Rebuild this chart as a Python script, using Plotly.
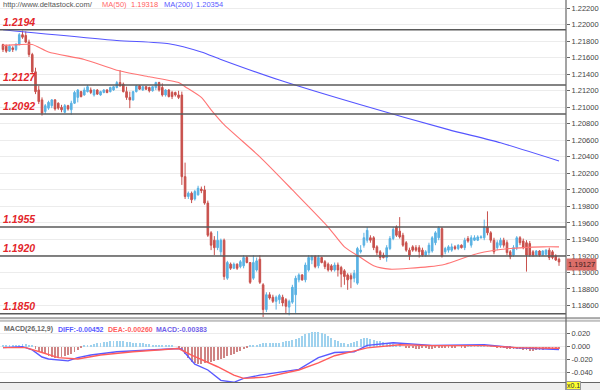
import plotly.graph_objects as go

# ---------------- data ----------------
open_ = [
    1.2176, 1.2174, 1.2168, 1.2172, 1.2170, 1.2176, 1.2188, 1.2187, 1.2179, 1.2164,
    1.2143, 1.2121, 1.2109, 1.2095, 1.2099, 1.2102, 1.2109, 1.2105, 1.2100, 1.2094,
    1.2102, 1.2097, 1.2105, 1.2112, 1.2119, 1.2115, 1.2119, 1.2121, 1.2115, 1.2121,
    1.2115, 1.2118, 1.2121, 1.2119, 1.2121, 1.2124, 1.2130, 1.2128, 1.2119, 1.2112,
    1.2109, 1.2119, 1.2126, 1.2121, 1.2125, 1.2124, 1.2120, 1.2124, 1.2130, 1.2124,
    1.2115, 1.2121, 1.2118, 1.2118, 1.2115, 1.2115, 1.2016, 1.1992, 1.1996, 1.1989,
    1.1994, 1.2001, 1.2000, 1.1984, 1.1948, 1.1939, 1.1930, 1.1925, 1.1939, 1.1893,
    1.1910, 1.1905, 1.1910, 1.1907, 1.1908, 1.1918, 1.1912, 1.1893, 1.1903, 1.1916,
    1.1885, 1.1855, 1.1873, 1.1870, 1.1865, 1.1867, 1.1870, 1.1867, 1.1858, 1.1864,
    1.1873, 1.1891, 1.1897, 1.1891, 1.1903, 1.1915, 1.1919, 1.1908, 1.1918, 1.1913,
    1.1910, 1.1908, 1.1903, 1.1909, 1.1906, 1.1902, 1.1897, 1.1896, 1.1893, 1.1887,
    1.1925, 1.1933, 1.1939, 1.1942, 1.1942, 1.1931, 1.1925, 1.1921, 1.1918, 1.1929,
    1.1941, 1.1955, 1.1950, 1.1945, 1.1936, 1.1927, 1.1931, 1.1930, 1.1930, 1.1927,
    1.1921, 1.1924, 1.1926, 1.1936, 1.1942, 1.1953, 1.1925, 1.1927, 1.1927, 1.1931,
    1.1929, 1.1933, 1.1930, 1.1941, 1.1933, 1.1939, 1.1939, 1.1942, 1.1942, 1.1955,
    1.1948, 1.1939, 1.1930, 1.1933, 1.1939, 1.1936, 1.1925, 1.1921, 1.1930, 1.1942,
    1.1938, 1.1936, 1.1935, 1.1925, 1.1921, 1.1926, 1.1921, 1.1922, 1.1927, 1.1925,
    1.1920, 1.1916,
]
high = [
    1.2177, 1.2176, 1.2176, 1.2174, 1.2178, 1.2190, 1.2193, 1.2192, 1.2182, 1.2166,
    1.2148, 1.2126, 1.2112, 1.2104, 1.2108, 1.2110, 1.2110, 1.2106, 1.2103, 1.2104,
    1.2103, 1.2108, 1.2120, 1.2122, 1.2120, 1.2124, 1.2127, 1.2124, 1.2122, 1.2122,
    1.2120, 1.2122, 1.2122, 1.2125, 1.2126, 1.2132, 1.2145, 1.2130, 1.2125, 1.2119,
    1.2120, 1.2127, 1.2127, 1.2126, 1.2126, 1.2125, 1.2126, 1.2131, 1.2131, 1.2129,
    1.2122, 1.2122, 1.2120, 1.2119, 1.2120, 1.2119, 1.2033, 1.1998, 1.1998, 1.2000,
    1.2005, 1.2004, 1.2005, 1.1987, 1.1950, 1.1944, 1.1950, 1.1941, 1.1941, 1.1914,
    1.1912, 1.1912, 1.1911, 1.1915, 1.1921, 1.1920, 1.1912, 1.1921, 1.1918, 1.1921,
    1.1887, 1.1876, 1.1876, 1.1873, 1.1872, 1.1874, 1.1873, 1.1869, 1.1867, 1.1885,
    1.1896, 1.1899, 1.1898, 1.1912, 1.1921, 1.1921, 1.1921, 1.1921, 1.1919, 1.1915,
    1.1912, 1.1910, 1.1912, 1.1912, 1.1908, 1.1904, 1.1899, 1.1899, 1.1903, 1.1931,
    1.1933, 1.1948, 1.1955, 1.1945, 1.1944, 1.1933, 1.1927, 1.1924, 1.1933, 1.1944,
    1.1955, 1.1957, 1.1967, 1.1948, 1.1938, 1.1930, 1.1933, 1.1933, 1.1933, 1.1930,
    1.1927, 1.1936, 1.1944, 1.1950, 1.1956, 1.1955, 1.1931, 1.1933, 1.1935, 1.1933,
    1.1934, 1.1934, 1.1942, 1.1944, 1.1945, 1.1945, 1.1945, 1.1945, 1.1964, 1.1974,
    1.1950, 1.1942, 1.1939, 1.1942, 1.1942, 1.1939, 1.1927, 1.1933, 1.1944, 1.1944,
    1.1941, 1.1939, 1.1938, 1.1927, 1.1927, 1.1927, 1.1927, 1.1928, 1.1930, 1.1927,
    1.1922, 1.1918,
]
low = [
    1.2167, 1.2166, 1.2167, 1.2167, 1.2168, 1.2175, 1.2183, 1.2178, 1.2161, 1.2141,
    1.2116, 1.2104, 1.2090, 1.2092, 1.2097, 1.2099, 1.2096, 1.2097, 1.2094, 1.2093,
    1.2096, 1.2091, 1.2104, 1.2106, 1.2112, 1.2114, 1.2118, 1.2116, 1.2113, 1.2115,
    1.2114, 1.2117, 1.2117, 1.2118, 1.2120, 1.2123, 1.2125, 1.2118, 1.2109, 1.2099,
    1.2108, 1.2118, 1.2121, 1.2120, 1.2121, 1.2118, 1.2119, 1.2121, 1.2119, 1.2113,
    1.2113, 1.2112, 1.2110, 1.2113, 1.2110, 1.2006, 1.1989, 1.1989, 1.1984, 1.1987,
    1.1993, 1.1996, 1.1982, 1.1943, 1.1927, 1.1921, 1.1927, 1.1920, 1.1891, 1.1891,
    1.1903, 1.1904, 1.1903, 1.1905, 1.1905, 1.1911, 1.1886, 1.1891, 1.1901, 1.1886,
    1.1846, 1.1852, 1.1867, 1.1863, 1.1855, 1.1862, 1.1859, 1.1850, 1.1848, 1.1862,
    1.1851, 1.1888, 1.1890, 1.1888, 1.1901, 1.1910, 1.1905, 1.1905, 1.1911, 1.1904,
    1.1901, 1.1901, 1.1901, 1.1895, 1.1882, 1.1885, 1.1879, 1.1881, 1.1888, 1.1885,
    1.1923, 1.1930, 1.1936, 1.1936, 1.1927, 1.1921, 1.1915, 1.1917, 1.1913, 1.1927,
    1.1939, 1.1943, 1.1941, 1.1931, 1.1925, 1.1915, 1.1925, 1.1925, 1.1918, 1.1919,
    1.1919, 1.1921, 1.1924, 1.1933, 1.1939, 1.1918, 1.1922, 1.1924, 1.1925, 1.1927,
    1.1927, 1.1929, 1.1927, 1.1936, 1.1930, 1.1938, 1.1938, 1.1941, 1.1939, 1.1945,
    1.1936, 1.1922, 1.1927, 1.1930, 1.1930, 1.1921, 1.1916, 1.1919, 1.1927, 1.1933,
    1.1928, 1.1901, 1.1919, 1.1919, 1.1920, 1.1919, 1.1920, 1.1921, 1.1915, 1.1916,
    1.1914, 1.1908,
]
close = [
    1.2170, 1.2168, 1.2174, 1.2170, 1.2176, 1.2188, 1.2185, 1.2179, 1.2164, 1.2143,
    1.2119, 1.2107, 1.2093, 1.2102, 1.2106, 1.2109, 1.2098, 1.2099, 1.2097, 1.2102,
    1.2098, 1.2105, 1.2118, 1.2121, 1.2113, 1.2121, 1.2125, 1.2118, 1.2121, 1.2116,
    1.2119, 1.2121, 1.2118, 1.2124, 1.2125, 1.2130, 1.2126, 1.2119, 1.2112, 1.2109,
    1.2119, 1.2126, 1.2122, 1.2125, 1.2122, 1.2120, 1.2125, 1.2130, 1.2121, 1.2115,
    1.2121, 1.2113, 1.2113, 1.2115, 1.2112, 1.2016, 1.1992, 1.1996, 1.1988, 1.1998,
    1.2002, 1.1999, 1.1984, 1.1945, 1.1933, 1.1930, 1.1939, 1.1939, 1.1895, 1.1912,
    1.1905, 1.1910, 1.1905, 1.1913, 1.1918, 1.1912, 1.1888, 1.1912, 1.1914, 1.1888,
    1.1855, 1.1873, 1.1869, 1.1865, 1.1870, 1.1872, 1.1863, 1.1859, 1.1865, 1.1882,
    1.1893, 1.1897, 1.1891, 1.1909, 1.1918, 1.1919, 1.1907, 1.1918, 1.1912, 1.1907,
    1.1903, 1.1903, 1.1909, 1.1903, 1.1898, 1.1895, 1.1891, 1.1892, 1.1899, 1.1929,
    1.1927, 1.1942, 1.1951, 1.1939, 1.1930, 1.1924, 1.1918, 1.1918, 1.1930, 1.1941,
    1.1952, 1.1945, 1.1943, 1.1933, 1.1927, 1.1921, 1.1927, 1.1927, 1.1925, 1.1921,
    1.1925, 1.1933, 1.1942, 1.1948, 1.1954, 1.1920, 1.1929, 1.1931, 1.1931, 1.1929,
    1.1933, 1.1930, 1.1939, 1.1938, 1.1942, 1.1942, 1.1943, 1.1943, 1.1955, 1.1948,
    1.1939, 1.1925, 1.1936, 1.1939, 1.1933, 1.1924, 1.1919, 1.1930, 1.1942, 1.1936,
    1.1930, 1.1921, 1.1921, 1.1921, 1.1926, 1.1921, 1.1926, 1.1927, 1.1918, 1.1918,
    1.1915, 1.19127,
]

# moving averages read at sample bars
ma50_idx = [0, 5, 9, 14, 25, 35, 45, 54, 56, 61, 64, 68, 79, 89, 100, 105, 110, 114,
            119, 131, 136, 146, 156, 166, 171]
ma50 = [1.2175, 1.2176, 1.2176, 1.2167, 1.2158, 1.2145, 1.2137, 1.2130, 1.2125, 1.2112,
        1.2097, 1.2079, 1.2040, 1.2000, 1.1955, 1.1931, 1.1918, 1.1908, 1.1904, 1.1907,
        1.1910, 1.1923, 1.1929, 1.1931, 1.1931]
ma200_idx = [0, 35, 51, 61, 67, 85, 110, 137, 153, 171]
ma200 = [1.2194, 1.2181, 1.2177, 1.2167, 1.2158, 1.2133, 1.2103, 1.2073, 1.2057, 1.2035]

# horizontal levels
levels = [1.2194, 1.2127, 1.2092, 1.1955, 1.1920, 1.1850]
level_text = ["1.2194", "1.2127", "1.2092", "1.1955", "1.1920", "1.1850"]

# MACD histogram (one per bar)
macd_hist = [
    0.001, 0.001, 0.002, 0.002, 0.002, 0.003, 0.004, 0.004, 0.003, 0.001,
    -0.003, -0.006, -0.009, -0.012, -0.014, -0.016, -0.017, -0.017, -0.016, -0.015,
    -0.013, -0.011, -0.008, -0.005, -0.002,
    0.001, 0.002, 0.003, 0.004, 0.005, 0.006, 0.007, 0.007, 0.008, 0.008,
    0.008, 0.008, 0.008, 0.007, 0.007, 0.006, 0.006, 0.005, 0.005, 0.004,
    0.004, 0.003, 0.003, 0.002, 0.002, 0.001, 0.001, 0.001, 0.000, -0.001,
    -0.004, -0.011, -0.018, -0.023, -0.026, -0.027, -0.027, -0.026, -0.025, -0.024,
    -0.022, -0.021, -0.019, -0.017, -0.015, -0.013, -0.011, -0.009, -0.007, -0.004,
    -0.002,
    0.001, 0.002, 0.003, 0.004, 0.005, 0.005, 0.005, 0.005, 0.006, 0.006,
    0.007, 0.008, 0.009, 0.010, 0.011,
    0.013, 0.016, 0.019, 0.021, 0.022, 0.022, 0.022, 0.021, 0.019, 0.016, 0.013,
    0.010, 0.008, 0.006, 0.005, 0.004, 0.005, 0.007, 0.009, 0.011, 0.013,
    0.013, 0.012, 0.010, 0.009, 0.008, 0.007, 0.006, 0.005, 0.004, 0.003, 0.002,
    0.000, -0.001, -0.002, -0.002, -0.003, -0.003, -0.002, -0.002, -0.003, -0.003,
    -0.002, -0.002, -0.001, -0.002, -0.002, -0.001, -0.001, 0.000, -0.001, -0.001,
    0.001, 0.001, 0.002, 0.002, 0.003, 0.003, 0.002, 0.001, 0.000, -0.001,
    -0.002, -0.002, -0.003, -0.003, -0.004, -0.004, -0.004, -0.005, -0.005, -0.006,
    -0.006, -0.005, -0.005, -0.005, -0.004, -0.004, -0.004, -0.004, -0.004,
]
diff_idx = [0, 6, 9, 12, 14, 20, 23, 27, 35, 45, 54, 55, 56, 57, 59, 63, 67, 71, 74, 79,
            86, 91, 97, 102, 108, 112, 120, 124, 132, 148, 158, 171]
diff = [-0.0016, 0.000, -0.005, -0.016, -0.019, -0.022, -0.017, -0.013, -0.008, -0.005,
        -0.003, -0.004, -0.010, -0.016, -0.027, -0.036, -0.052, -0.055, -0.049, -0.044,
        -0.039, -0.035, -0.017, -0.009, -0.008, 0.002, 0.006, 0.005, 0.002, 0.003,
        -0.002, -0.0045]
dea_idx = [0, 7, 12, 17, 23, 30, 40, 54, 58, 66, 71, 74, 81, 91, 97, 102, 112, 122, 132,
           148, 158, 171]
dea = [-0.0016, -0.0016, -0.009, -0.017, -0.019, -0.013, -0.008, -0.003, -0.013, -0.031,
       -0.044, -0.049, -0.047, -0.036, -0.025, -0.014, -0.002, 0.003, 0.0016, 0.0016,
       -0.0016, -0.0026]

price_ticks = [1.186, 1.188, 1.190, 1.192, 1.194, 1.196, 1.198, 1.200, 1.202, 1.204,
               1.206, 1.208, 1.210, 1.212, 1.214, 1.216, 1.218, 1.220, 1.222]
price_tick_text = ["1.18600", "1.18800", "1.19000", "1.19200", "1.19400", "1.19600",
                   "1.19800", "1.20000", "1.20200", "1.20400", "1.20600", "1.20800",
                   "1.21000", "1.21200", "1.21400", "1.21600", "1.21800", "1.22000",
                   "1.22200"]
macd_ticks = [0.02, 0.0, -0.02, -0.04]
macd_tick_text = ["0.020", "0.000", "-0.020", "-0.040"]

header_url = "http://www.deltastock.com/"
ma50_last = "1.19318"
ma200_last = "1.20354"
last_price = "1.19127"
macd_title = "MACD(26,12,9)"
diff_label = "DIFF:-0.00452"
dea_label = "DEA:-0.00260"
macd_label = "MACD:-0.00383"

# ---------------- figure ----------------
W, H = 600, 390
PLOT_W = 566
idx = list(range(len(close)))
hidx = list(range(len(macd_hist)))
xr = [-0.92, 173.15]

UP = "#5ab2e3"
DN = "#c8504c"
FONT = "Liberation Sans"

def py(pix):
    return 1 - pix / H

fig = go.Figure()
fig.add_trace(go.Candlestick(
    x=idx, open=open_, high=high, low=low, close=close,
    increasing=dict(line=dict(color=UP, width=1), fillcolor=UP),
    decreasing=dict(line=dict(color=DN, width=1), fillcolor=DN),
    whiskerwidth=0, xaxis="x", yaxis="y", hoverinfo="skip"))
fig.add_trace(go.Scatter(x=ma50_idx, y=ma50, mode="lines", xaxis="x", yaxis="y",
                         line=dict(color="#ff7474", width=1.1, shape="spline", smoothing=0.6)))
fig.add_trace(go.Scatter(x=ma200_idx, y=ma200, mode="lines", xaxis="x", yaxis="y",
                         line=dict(color="#5555ff", width=1.1, shape="spline", smoothing=0.6)))

fig.add_trace(go.Bar(x=hidx, y=macd_hist, width=0.28, xaxis="x2", yaxis="y2",
                     marker=dict(color=["#9fd2ee" if v >= 0 else "#cf8585" for v in macd_hist],
                                 line=dict(width=0))))
fig.add_trace(go.Scatter(x=diff_idx, y=diff, mode="lines", xaxis="x2", yaxis="y2",
                         line=dict(color="#5a5aff", width=1.4)))
fig.add_trace(go.Scatter(x=dea_idx, y=dea, mode="lines", xaxis="x2", yaxis="y2",
                         line=dict(color="#ff5c5c", width=1.4)))

shapes = []
for lv in levels:
    shapes.append(dict(type="line", xref="paper", yref="y", x0=0, x1=1, y0=lv, y1=lv,
                       line=dict(color="#5a5a5a", width=1.5)))
# panel separators / frame
shapes += [
    dict(type="rect", xref="paper", yref="paper", x0=0, x1=W / PLOT_W, y0=py(321), y1=py(318),
         fillcolor="#ececec", line=dict(width=0), layer="above"),
    dict(type="line", xref="paper", yref="paper", x0=0, x1=W / PLOT_W, y0=py(318), y1=py(318),
         line=dict(color="#666", width=1.2)),
    dict(type="line", xref="paper", yref="paper", x0=0, x1=W / PLOT_W, y0=py(321), y1=py(321),
         line=dict(color="#999", width=1)),
    dict(type="rect", xref="paper", yref="paper", x0=0, x1=W / PLOT_W, y0=0, y1=py(382.5),
         fillcolor="#efefef", line=dict(width=0), layer="above"),
    dict(type="line", xref="paper", yref="paper", x0=0, x1=W / PLOT_W, y0=py(382.5), y1=py(382.5),
         line=dict(color="#666", width=1.2)),
    dict(type="line", xref="paper", yref="paper", x0=1, x1=1, y0=0, y1=1,
         line=dict(color="#666", width=1.2)),
]

ann = []
for lv, t in zip(levels, level_text):
    ann.append(dict(xref="paper", yref="y", x=0.002, y=lv, xanchor="left", yanchor="bottom",
                    yshift=0, showarrow=False, text="<b><i>%s</i></b>" % t,
                    font=dict(family=FONT, size=10.5, color="#e3262b")))

hy = py(5)
def head(x, text, color):
    return dict(xref="paper", yref="paper", x=x / PLOT_W, y=hy, xanchor="left", yanchor="middle",
                showarrow=False, text=text, font=dict(family=FONT, size=7.5, color=color))
ann += [
    head(1, header_url, "#555555"),
    head(100, "MA(50)", "#ff6a6a"),
    head(129, ma50_last, "#ff5a5a"),
    head(162, "MA(200)", "#5a5aff"),
    head(194, ma200_last, "#5a5aff"),
]
my = py(329)
def mhead(x, text, color):
    return dict(xref="paper", yref="paper", x=x / PLOT_W, y=my, xanchor="left", yanchor="middle",
                showarrow=False, text="<b>%s</b>" % text, font=dict(family=FONT, size=7, color=color))
ann += [
    mhead(2, macd_title, "#666666"),
    mhead(56, diff_label, "#5a5aff"),
    mhead(106, dea_label, "#ff5c5c"),
    mhead(154, macd_label, "#7060e8"),
]
ann.append(dict(xref="paper", yref="y", x=1, y=close[-1], xanchor="left", yanchor="middle",
                xshift=0, yshift=-3, showarrow=False, text=last_price, bgcolor="#dc6e69",
                borderpad=1, font=dict(family=FONT, size=7.5, color="#3a2020")))
ann.append(dict(xref="paper", yref="paper", x=1, y=py(385.5), xanchor="left", yanchor="middle",
                showarrow=False, text="x0.1", bgcolor="#ffff30", bordercolor="#999", borderwidth=1,
                borderpad=0, font=dict(family=FONT, size=7, color="#333")))

fig.update_layout(
    width=W, height=H, margin=dict(l=0, r=W - PLOT_W, t=0, b=0),
    paper_bgcolor="white", plot_bgcolor="white", showlegend=False,
    shapes=shapes, annotations=ann, bargap=0,
    xaxis=dict(domain=[0, 1], range=xr, anchor="y", showticklabels=False, showgrid=False,
               zeroline=False, rangeslider=dict(visible=False), ticks=""),
    xaxis2=dict(domain=[0, 1], range=xr, anchor="y2", matches="x", showticklabels=False,
                showgrid=False, zeroline=False, ticks=""),
    yaxis=dict(domain=[py(318), 1], range=[1.18448, 1.2230], side="right",
               tickvals=price_ticks, ticktext=price_tick_text, ticks="outside", ticklen=3,
               tickcolor="#666", tickfont=dict(family=FONT, size=7.5, color="#444"),
               showgrid=True, gridcolor="#ececec", zeroline=False),
    yaxis2=dict(domain=[py(382.5), py(321)], range=[-0.0553, 0.0395], side="right",
                tickvals=macd_ticks, ticktext=macd_tick_text, ticks="outside", ticklen=3,
                tickcolor="#666", tickfont=dict(family=FONT, size=7.5, color="#444"),
                showgrid=True, gridcolor="#ececec", zeroline=False),
)

fig.write_html("out.html", config={"displayModeBar": False},
               post_script="document.body.style.margin='0';document.body.style.padding='0';"
                           "document.body.style.overflow='hidden';")
